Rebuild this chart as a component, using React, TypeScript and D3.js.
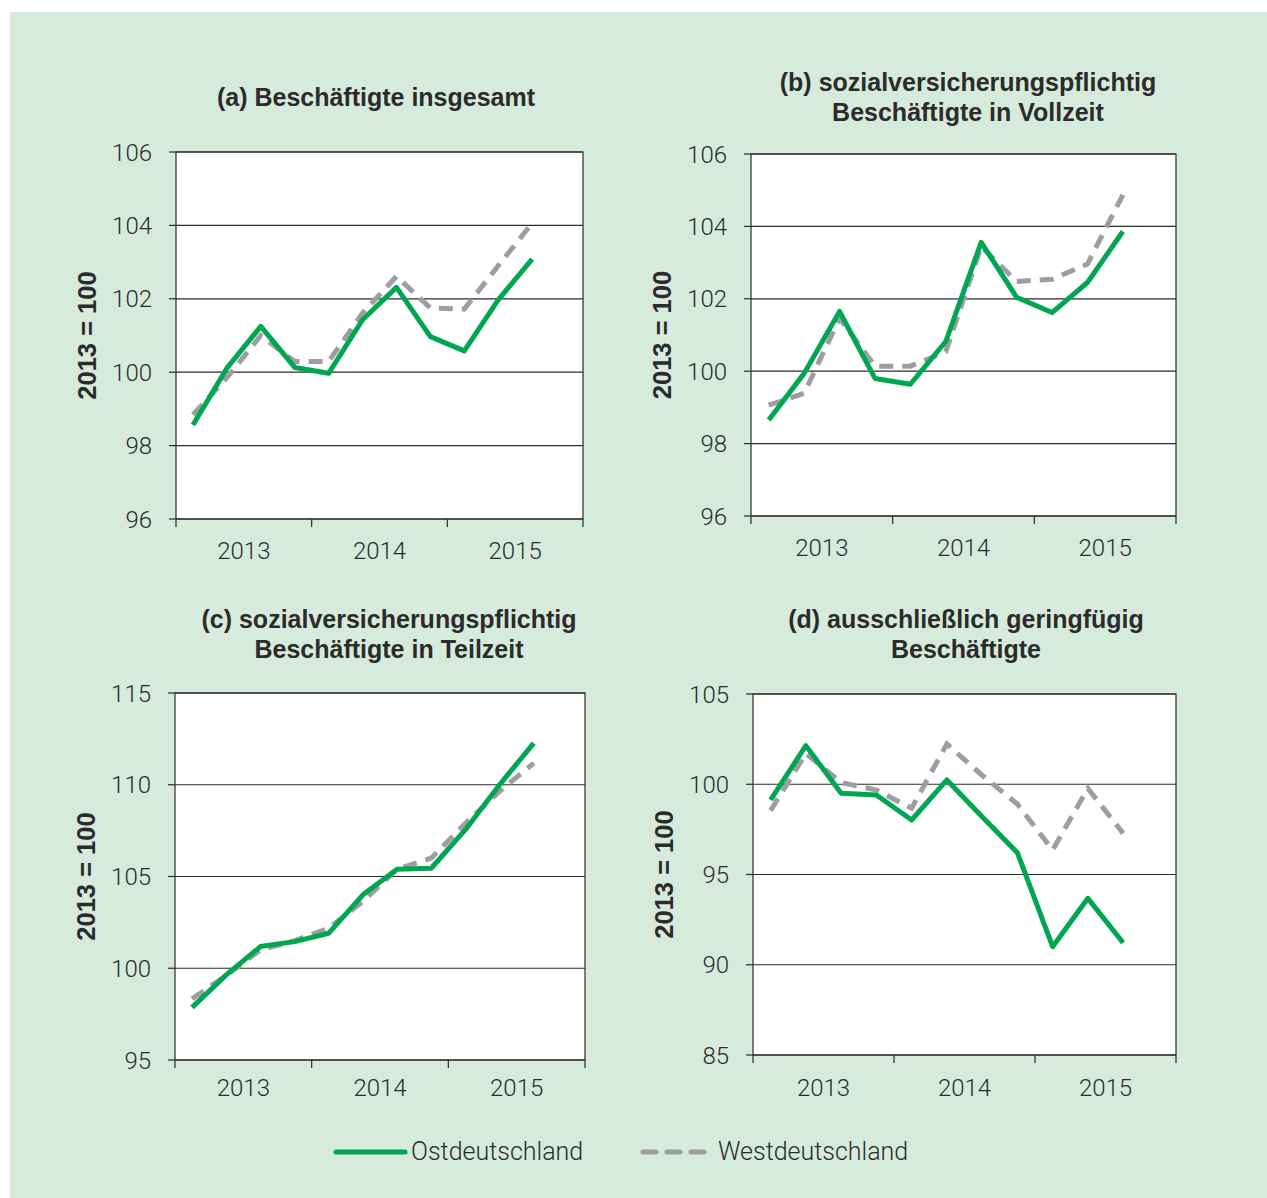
import React, { useEffect } from 'react';
import * as d3 from 'd3';

// quarterly slots, 2013 Q1 .. 2015 Q4 (last one empty)
const quarters = [
  '2013Q1', '2013Q2', '2013Q3', '2013Q4',
  '2014Q1', '2014Q2', '2014Q3', '2014Q4',
  '2015Q1', '2015Q2', '2015Q3', '2015Q4',
];
const years = ['2013', '2014', '2015'];

// (a) Beschäftigte insgesamt
const ostA = [98.56, 100.11, 101.25, 100.13, 99.97, 101.43, 102.31, 100.97, 100.58, 101.97, 103.08];
const westA = [98.84, 99.85, 101.0, 100.29, 100.29, 101.61, 102.61, 101.75, 101.72, 102.9, 104.06];
const ticksA = [96, 98, 100, 102, 104, 106];

// (b) Vollzeit
const ostB = [98.65, 99.94, 101.65, 99.8, 99.64, 100.82, 103.56, 102.04, 101.62, 102.45, 103.86];
const westB = [99.06, 99.39, 101.46, 100.14, 100.14, 100.54, 103.44, 102.48, 102.54, 102.96, 104.87];
const ticksB = [96, 98, 100, 102, 104, 106];

// (c) Teilzeit
const ostC = [97.87, 99.64, 101.18, 101.45, 101.91, 104.0, 105.4, 105.45, 107.55, 110.0, 112.27];
const westC = [98.33, 99.6, 101.0, 101.5, 102.18, 103.64, 105.4, 106.0, 107.9, 109.64, 111.18];
const ticksC = [95, 100, 105, 110, 115];

// (d) ausschließlich geringfügig
const ostD = [99.13, 102.14, 99.5, 99.4, 98.02, 100.24, 98.2, 96.21, 91.0, 93.68, 91.22];
const westD = [98.54, 101.71, 100.09, 99.68, 98.67, 102.23, 100.5, 98.9, 96.36, 99.77, 97.28];
const ticksD = [85, 90, 95, 100, 105];

const seriesNames = ['Ostdeutschland', 'Westdeutschland'];

const GREEN = '#00a651';
const GRAY = '#9d9ea2';
const INK = '#2b2b2b';
const BG = '#d7ebdd';
const lightFont = "'Roboto', 'Liberation Sans', Arial, sans-serif";
const boldFont = "'Liberation Sans', Arial, sans-serif";

type PanelProps = {
  title: string[];
  titleX: number;
  titleY: number;
  box: { x0: number; x1: number; y0: number; y1: number };
  yearY: number;
  ticks: number[];
  ost: number[];
  west: number[];
};

function Panel({ title, titleX, titleY, box, yearY, ticks, ost, west }: PanelProps) {
  const x = d3.scaleBand<string>().domain(quarters).range([box.x0, box.x1]).padding(0);
  const xYear = d3.scaleBand<string>().domain(years).range([box.x0, box.x1]).padding(0);
  const y = d3
    .scaleLinear()
    .domain([ticks[0], ticks[ticks.length - 1]])
    .range([box.y1, box.y0]);

  const line = d3
    .line<number>()
    .x((_, i) => (x(quarters[i]) as number) + x.bandwidth() / 2)
    .y(d => y(d));

  const yearEdges = [...years.map(yr => xYear(yr) as number), box.x1];

  return (
    <g>
      {title.map((t, i) => (
        <text
          key={i}
          x={titleX}
          y={titleY + i * 30}
          textAnchor="middle"
          fontFamily={boldFont}
          fontWeight="bold"
          fontSize={25}
          fill={INK}
        >
          {t}
        </text>
      ))}
      <rect x={box.x0} y={box.y0} width={box.x1 - box.x0} height={box.y1 - box.y0} fill="#fff" />
      {/* grid */}
      {ticks.map(t => (
        <line key={t} x1={box.x0} x2={box.x1} y1={y(t)} y2={y(t)} stroke={INK} strokeWidth={1.2} />
      ))}
      <rect
        x={box.x0}
        y={box.y0}
        width={box.x1 - box.x0}
        height={box.y1 - box.y0}
        fill="none"
        stroke={INK}
        strokeWidth={1.2}
      />
      {/* y axis */}
      {ticks.map(t => (
        <g key={t}>
          <line x1={box.x0 - 7} x2={box.x0} y1={y(t)} y2={y(t)} stroke={INK} strokeWidth={1.2} />
          <text
            x={box.x0 - 24}
            y={y(t) + 8.5}
            textAnchor="end"
            fontFamily={lightFont}
            fontWeight={300}
            fontSize={24}
            fill={INK}
          >
            {t}
          </text>
        </g>
      ))}
      <text
        transform={`translate(${box.x0 - 80},${(box.y0 + box.y1) / 2}) rotate(-90)`}
        textAnchor="middle"
        fontFamily={boldFont}
        fontWeight="bold"
        fontSize={25.5}
        fill={INK}
      >
        2013 = 100
      </text>
      {/* x axis */}
      {yearEdges.map((xe, i) => (
        <line key={i} x1={xe} x2={xe} y1={box.y1} y2={box.y1 + 8} stroke={INK} strokeWidth={1.2} />
      ))}
      {years.map(yr => (
        <text
          key={yr}
          x={(xYear(yr) as number) + xYear.bandwidth() / 2}
          y={yearY + 8.5}
          textAnchor="middle"
          fontFamily={lightFont}
          fontWeight={300}
          fontSize={24}
          fill={INK}
        >
          {yr}
        </text>
      ))}
      {/* lines */}
      <path d={line(west) || ''} fill="none" stroke={GRAY} strokeWidth={5} strokeDasharray="14 9" />
      <path d={line(ost) || ''} fill="none" stroke={GREEN} strokeWidth={5} strokeLinejoin="round" />
    </g>
  );
}

export default function App() {
  useEffect(() => {
    document.body.style.margin = '0';
  }, []);

  return (
    <svg width={1267} height={1198} style={{ display: 'block' }}>
      <rect x={0} y={0} width={1267} height={1198} fill="#fff" />
      <rect x={10} y={12} width={1257} height={1186} fill={BG} />

      <Panel
        title={['(a) Beschäftigte insgesamt']}
        titleX={376}
        titleY={106}
        box={{ x0: 176, x1: 583, y0: 152, y1: 519 }}
        yearY={550}
        ticks={ticksA}
        ost={ostA}
        west={westA}
      />
      <Panel
        title={['(b) sozialversicherungspflichtig', 'Beschäftigte in Vollzeit']}
        titleX={968}
        titleY={91}
        box={{ x0: 751, x1: 1176, y0: 154, y1: 516 }}
        yearY={547}
        ticks={ticksB}
        ost={ostB}
        west={westB}
      />
      <Panel
        title={['(c) sozialversicherungspflichtig', 'Beschäftigte in Teilzeit']}
        titleX={389}
        titleY={628}
        box={{ x0: 175, x1: 585, y0: 693, y1: 1060 }}
        yearY={1087}
        ticks={ticksC}
        ost={ostC}
        west={westC}
      />
      <Panel
        title={['(d) ausschließlich geringfügig', 'Beschäftigte']}
        titleX={966}
        titleY={628}
        box={{ x0: 753, x1: 1176, y0: 694, y1: 1055 }}
        yearY={1087}
        ticks={ticksD}
        ost={ostD}
        west={westD}
      />

      {/* legend */}
      <g>
        <line x1={336} x2={405} y1={1152} y2={1152} stroke={GREEN} strokeWidth={5} strokeLinecap="round" />
        <text x={411} y={1160} fontFamily={lightFont} fontWeight={300} fontSize={25} fill={INK}>
          {seriesNames[0]}
        </text>
        <line
          x1={643}
          x2={705}
          y1={1152}
          y2={1152}
          stroke={GRAY}
          strokeWidth={5}
          strokeLinecap="round"
          strokeDasharray="13 11"
        />
        <text x={718} y={1160} fontFamily={lightFont} fontWeight={300} fontSize={25} fill={INK}>
          {seriesNames[1]}
        </text>
      </g>
    </svg>
  );
}
